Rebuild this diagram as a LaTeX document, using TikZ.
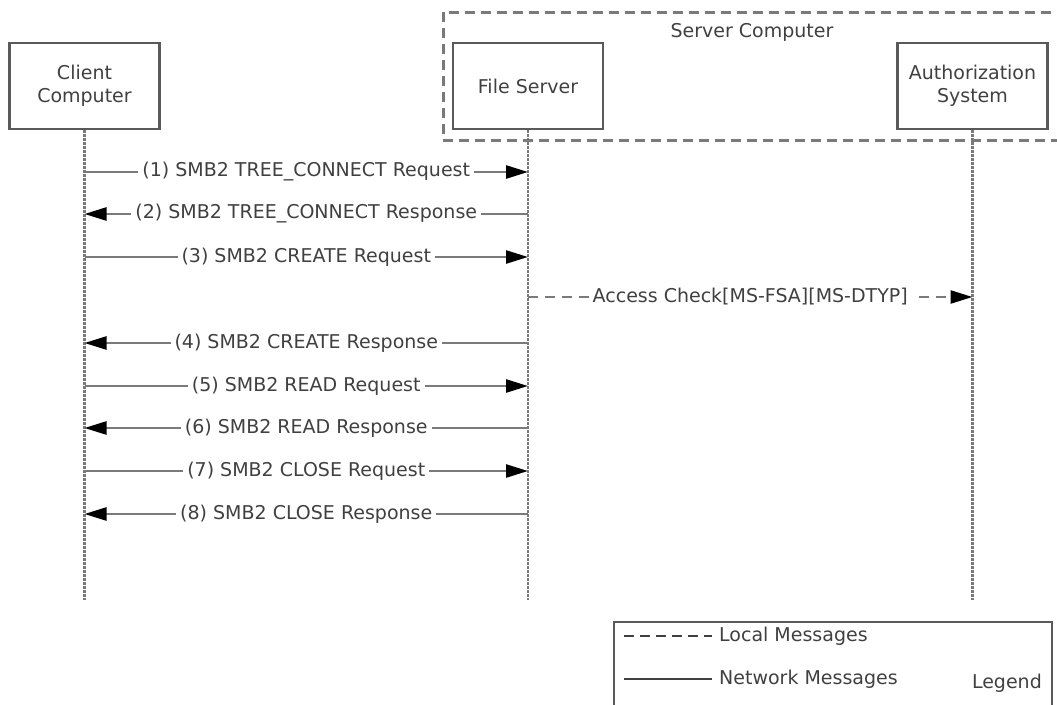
\documentclass[tikz,border=0pt]{standalone}
\usepackage{fontspec}
\setmainfont{DejaVu Sans}
\usetikzlibrary{arrows.meta}
\definecolor{linegray}{HTML}{7A7A7A}
\definecolor{boxgray}{HTML}{5A5A5A}
\definecolor{txtgray}{HTML}{404040}
\tikzset{
  actor/.style={draw=boxgray, line width=2.5pt, minimum width=150pt, minimum height=86pt, align=center, text=txtgray, font=\fontsize{19}{23}\selectfont},
  lifeline/.style={draw=linegray, line width=2.5pt, dash pattern=on 2.5pt off 1.5pt},
  msg/.style={draw=linegray, line width=2.5pt, -{Triangle[length=22pt,width=13pt,black]}},
  localmsg/.style={msg, dash pattern=on 10pt off 7pt},
  lbl/.style={fill=white, text=txtgray, inner sep=4pt, font=\fontsize{19}{23}\selectfont},
  txt/.style={text=txtgray, inner sep=0pt, font=\fontsize{19}{23}\selectfont}
}
\begin{document}
\begin{tikzpicture}[x=1pt,y=-1pt]
\useasboundingbox (0,0) rectangle (1057,704);
\clip (0,0) rectangle (1057,704);
% server computer
\draw[linegray, line width=3pt, dash pattern=on 10pt off 6pt] (443,12) rectangle (1075,140);
\node[txt] (srvlbl) at (752,32) {Server Computer};
% actors
\node[actor] (client) at (84.5,86) {Client\\Computer};
\node[actor] (fs) at (528,86) {File Server};
\node[actor] (auth) at (972.5,86) {Authorization\\System};
\coordinate (clientend) at (84.5,600);
\coordinate (fsend) at (528,600);
\coordinate (authend) at (972.5,600);
\draw[lifeline] (client.south) -- (clientend);
\draw[lifeline] (fs.south) -- (fsend);
\draw[lifeline] (auth.south) -- (authend);
% messages
\coordinate (c1) at (84.5,172);
\coordinate (f1) at (528,172);
\coordinate (c2) at (84.5,214);
\coordinate (f2) at (528,214);
\coordinate (c3) at (84.5,257);
\coordinate (f3) at (528,257);
\coordinate (f0) at (528,297);
\coordinate (a0) at (972.5,297);
\coordinate (c4) at (84.5,343);
\coordinate (f4) at (528,343);
\coordinate (c5) at (84.5,386);
\coordinate (f5) at (528,386);
\coordinate (c6) at (84.5,428);
\coordinate (f6) at (528,428);
\coordinate (c7) at (84.5,471);
\coordinate (f7) at (528,471);
\coordinate (c8) at (84.5,514);
\coordinate (f8) at (528,514);
\draw[msg] (c1) -- node[lbl]{(1) SMB2 TREE\_CONNECT Request} (f1);
\draw[msg] (f2) -- node[lbl]{(2) SMB2 TREE\_CONNECT Response} (c2);
\draw[msg] (c3) -- node[lbl]{(3) SMB2 CREATE Request} (f3);
\draw[localmsg] (f0) -- node[lbl]{Access Check[MS-FSA][MS-DTYP]} (a0);
\draw[msg] (f4) -- node[lbl]{(4) SMB2 CREATE Response} (c4);
\draw[msg] (c5) -- node[lbl]{(5) SMB2 READ Request} (f5);
\draw[msg] (f6) -- node[lbl]{(6) SMB2 READ Response} (c6);
\draw[msg] (c7) -- node[lbl]{(7) SMB2 CLOSE Request} (f7);
\draw[msg] (f8) -- node[lbl]{(8) SMB2 CLOSE Response} (c8);
% legend
\draw[boxgray, line width=2.5pt] (614,622) rectangle (1052,730);
\coordinate (loc1) at (624,636);
\coordinate (loc2) at (712,636);
\coordinate (net1) at (624,679);
\coordinate (net2) at (712,679);
\draw[draw=txtgray, line width=2pt, dash pattern=on 10pt off 6pt] (loc1) -- (loc2);
\draw[draw=txtgray, line width=2pt] (net1) -- (net2);
\node[txt, anchor=west] (loclbl) at (719,636) {Local Messages};
\node[txt, anchor=west] (netlbl) at (719,679) {Network Messages};
\node[txt, anchor=east] (leglbl) at (1042,683) {Legend};
\end{tikzpicture}
\end{document}
